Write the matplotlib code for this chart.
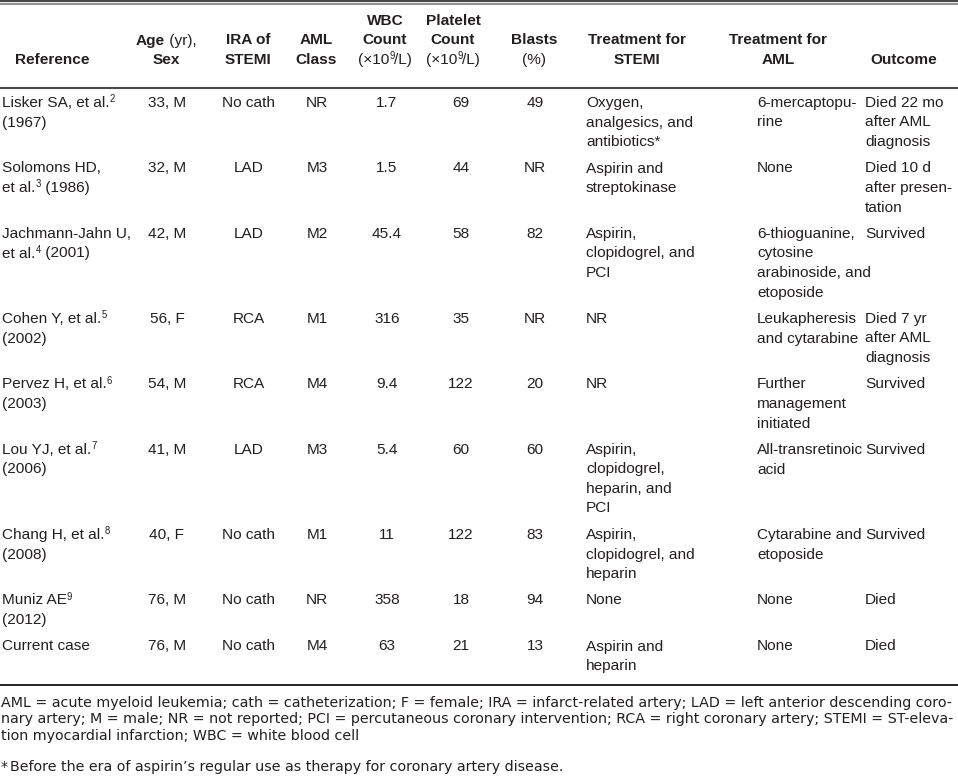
import matplotlib
matplotlib.use("Agg")
import matplotlib.pyplot as plt
from matplotlib.font_manager import FontProperties

# ---------------- data ----------------
references = ["Lisker SA, et al.²\n(1967)", "Solomons HD,\net al.³ (1986)",
              "Jachmann-Jahn U,\net al.⁴ (2001)", "Cohen Y, et al.⁵\n(2002)",
              "Pervez H, et al.⁶\n(2003)", "Lou YJ, et al.⁷\n(2006)",
              "Chang H, et al.⁸\n(2008)", "Muniz AE⁹\n(2012)", "Current case"]
age_sex = ["33, M", "32, M", "42, M", "56, F", "54, M", "41, M", "40, F", "76, M", "76, M"]
ira = ["No cath", "LAD", "LAD", "RCA", "RCA", "LAD", "No cath", "No cath", "No cath"]
aml_class = ["NR", "M3", "M2", "M1", "M4", "M3", "M1", "NR", "M4"]
wbc = ["1.7", "1.5", "45.4", "316", "9.4", "5.4", "11", "358", "63"]
platelet = ["69", "44", "58", "35", "122", "60", "122", "18", "21"]
blasts = ["49", "NR", "82", "NR", "20", "60", "83", "94", "13"]
tx_stemi = ["Oxygen,\nanalgesics, and\nantibiotics*", "Aspirin and\nstreptokinase",
            "Aspirin,\nclopidogrel, and\nPCI", "NR", "NR",
            "Aspirin,\nclopidogrel,\nheparin, and\nPCI", "Aspirin,\nclopidogrel, and\nheparin",
            "None", "Aspirin and\nheparin"]
tx_aml = ["6-mercaptopu-\nrine", "None",
          "6-thioguanine,\ncytosine\narabinoside, and\netoposide",
          "Leukapheresis\nand cytarabine", "Further\nmanagement\ninitiated",
          "All-transretinoic\nacid", "Cytarabine and\netoposide", "None", "None"]
outcome = ["Died 22 mo\nafter AML\ndiagnosis", "Died 10 d\nafter presen-\ntation", "Survived",
           "Died 7 yr\nafter AML\ndiagnosis", "Survived", "Survived", "Survived", "Died", "Died"]
headers = ["**Reference**", "**Age** (yr),\n**Sex**", "**IRA of**\n**STEMI**", "**AML**\n**Class**",
           "**WBC**\n**Count**\n(×10⁹/L)", "**Platelet**\n**Count**\n(×10⁹/L)", "**Blasts**\n(%)",
           "**Treatment for**\n**STEMI**", "**Treatment for**\n**AML**", "**Outcome**"]
footnote_abbrev = ["AML = acute myeloid leukemia; cath = catheterization; F = female; IRA = infarct-related artery; LAD = left anterior descending coro-",
                   "nary artery; M = male; NR = not reported; PCI = percutaneous coronary intervention; RCA = right coronary artery; STEMI = ST-eleva-",
                   "tion myocardial infarction; WBC = white blood cell"]
footnote_star_mark = "*"
footnote_star = "Before the era of aspirin’s regular use as therapy for coronary artery disease."

columns = [references, age_sex, ira, aml_class, wbc, platelet, blasts, tx_stemi, tx_aml, outcome]

# ---------------- layout ----------------
W, H = 958, 777
DPI = 100
FS = 11.1
COLOR = "#231f20"
LINE_H = 19.5
ROW_GAP = 7
FAM = "Liberation Sans"
FOOT_FAM = "DejaVu Sans"
FOOT_WIDTH = 950

body_x = [2, 167, 249, 317, 387, 461, 535, 586, 757, 865]
body_ha = ["left", "center", "center", "center", "center", "center", "center", "left", "left", "left"]
head_x = [52, 166, 248, 316, 385, 453, 534, 637, 778, 904]
HEAD_BASE = 64
BODY_BASE0 = 107

fig = plt.figure(figsize=(W / DPI, H / DPI), dpi=DPI)
ax = fig.add_axes([0, 0, 1, 1])
ax.set_xlim(0, W)
ax.set_ylim(H, 0)
ax.axis("off")
renderer = fig.canvas.get_renderer()

SUP = {"⁰": "0", "¹": "1", "²": "2", "³": "3", "⁴": "4", "⁵": "5", "⁶": "6", "⁷": "7", "⁸": "8", "⁹": "9"}


def parse(line):
    runs = []
    for i, part in enumerate(line.split("**")):
        bold = i % 2 == 1
        for ch in part:
            sup = ch in SUP
            c = SUP.get(ch, ch)
            if runs and runs[-1][1] == bold and runs[-1][2] == sup:
                runs[-1][0] += c
            else:
                runs.append([c, bold, sup])
    return runs


def prop(bold, sup, family=FAM, size=FS):
    return FontProperties(family=family, weight="bold" if bold else "normal",
                          size=size * (0.62 if sup else 1.0))


def width(s, p):
    a = renderer.get_text_width_height_descent("|" + s + "|", p, ismath=False)[0]
    b = renderer.get_text_width_height_descent("||", p, ismath=False)[0]
    return a - b


def draw_line(x, y, line, ha="left", family=FAM, size=FS):
    runs = parse(line)
    ws = [width(r[0], prop(r[1], r[2], family, size)) for r in runs]
    total = sum(ws)
    if ha == "center":
        x = x - total / 2
    elif ha == "right":
        x = x - total
    for (txt, bold, sup), w in zip(runs, ws):
        yy = y - size * 0.42 if sup else y
        ax.text(x, yy, txt, fontproperties=prop(bold, sup, family, size), color=COLOR,
                ha="left", va="baseline")
        x += w
    return x


# rules
ax.plot([0, W], [0.8, 0.8], color="#4a4a4a", lw=1.6, solid_capstyle="butt")
ax.plot([0, W], [4.2, 4.2], color="#707070", lw=1.1, solid_capstyle="butt")
ax.plot([0, W], [87.5, 87.5], color="#4a4a4a", lw=1.5, solid_capstyle="butt")
ax.plot([0, W], [684.5, 684.5], color="#111111", lw=1.3, solid_capstyle="butt")

# header (bottom aligned)
for hx, htxt in zip(head_x, headers):
    lines = htxt.split("\n")
    n = len(lines)
    for i, ln in enumerate(lines):
        draw_line(hx, HEAD_BASE - (n - 1 - i) * LINE_H, ln, ha="center")

# body
y = BODY_BASE0
for r in range(len(references)):
    nmax = 1
    for c, col in enumerate(columns):
        lines = col[r].split("\n")
        nmax = max(nmax, len(lines))
        for i, ln in enumerate(lines):
            draw_line(body_x[c], y + i * LINE_H, ln, ha=body_ha[c])
    y += nmax * LINE_H + ROW_GAP

# footnotes: fit first line to the table width
w10 = width(footnote_abbrev[0], prop(False, False, FOOT_FAM, 10))
fsz = 10 * FOOT_WIDTH / w10
foot_base = [707, 723.5, 740]
for yb, ln in zip(foot_base, footnote_abbrev):
    draw_line(1, yb, ln, family=FOOT_FAM, size=fsz)
ax.text(1, 771, footnote_star_mark, fontproperties=prop(False, False, FOOT_FAM, fsz),
        color=COLOR, ha="left", va="baseline")
star_w = width(footnote_star_mark, prop(False, False, FOOT_FAM, fsz))
draw_line(1 + star_w + 2, 771, footnote_star, family=FOOT_FAM, size=fsz)

fig.savefig("out.png", dpi=DPI)
